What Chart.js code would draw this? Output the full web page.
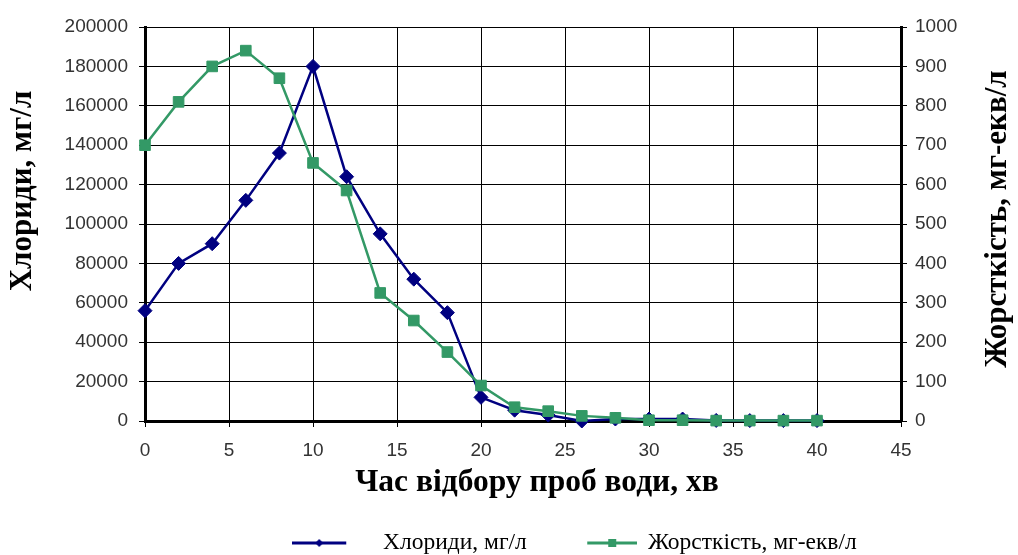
<!DOCTYPE html>
<html>
<head>
<meta charset="utf-8">
<script src="https://cdn.jsdelivr.net/npm/chart.js@4.4.1/dist/chart.umd.min.js"></script>
<style>
  html, body { margin: 0; padding: 0; background: #fff; }
  #wrap { width: 1018px; height: 555px; }
</style>
</head>
<body>
<div id="wrap"><canvas id="c" width="1018" height="555"></canvas></div>
<script>
// Sampling time, minutes
const sampleTime = [0, 2, 4, 6, 8, 10, 12, 14, 16, 18, 20, 22, 24, 26, 28, 30, 32, 34, 36, 38, 40];
// Chloride content, mg/l (left axis)
const chlorides = [56000, 80000, 90000, 112000, 136000, 180000, 124000, 95000, 72000, 55000,
                   12000, 5500, 3000, 0, 1000, 1000, 1000, 300, 200, 200, 200];
// Water hardness, mg-eq/l (right axis)
const hardness = [700, 810, 900, 940, 870, 655, 585, 325, 255, 175,
                  90, 35, 25, 13, 8, 2, 2, 1, 1, 1, 1];

// Axis tick values
const timeTicks = [0, 5, 10, 15, 20, 25, 30, 35, 40, 45];
const chlorideTicks = [0, 20000, 40000, 60000, 80000, 100000, 120000, 140000, 160000, 180000, 200000];
const hardnessTicks = [0, 100, 200, 300, 400, 500, 600, 700, 800, 900, 1000];

// Texts
const chlorideLabel = 'Хлориди, мг/л';
const hardnessLabel = 'Жорсткість, мг-екв/л';
const timeTitle = 'Час відбору проб води, хв';
const chlorideTitle = 'Хлориди, мг/л';
const hardnessTitle = 'Жорсткість, мг-екв/л';

const NAVY = '#000080';
const SEA = '#339966';

// Plot frame
const PLOT_LEFT = 145, PLOT_RIGHT = 901, PLOT_TOP = 27, PLOT_BOTTOM = 421;

const tickFont = { family: '"Liberation Sans", Arial, sans-serif', size: 19 };
const tickColor = '#333333';
const xTitleFont = 'bold 31.5px "Liberation Serif", "Times New Roman", serif';
const yTitleFont = 'bold 31px "Liberation Serif", "Times New Roman", serif';

// Legend geometry
const LEGEND_FONT = 23.5;
const LEGEND_BOX = 60;
const LEGEND_FIRST_TEXT_X = 383;
const LEGEND_SECOND_TEXT_X = 648;
const LEGEND_TEXT_Y = 543;

const measureCtx = document.createElement('canvas').getContext('2d');
measureCtx.font = LEGEND_FONT + 'px "Liberation Serif"';
const firstLabelWidth = measureCtx.measureText(chlorideLabel).width;
const legendPad = (LEGEND_SECOND_TEXT_X - LEGEND_FIRST_TEXT_X) - LEGEND_BOX - LEGEND_FONT / 2 - firstLabelWidth;

// Legend keys: a short line with the series marker on it
function legendKey(color, w, lineFrom, lineTo, markX, shape) {
  const cv = document.createElement('canvas');
  cv.width = w; cv.height = 12;
  const g = cv.getContext('2d');
  g.strokeStyle = color; g.fillStyle = color; g.lineWidth = 3;
  g.beginPath(); g.moveTo(lineFrom, 6); g.lineTo(lineTo, 6); g.stroke();
  g.beginPath();
  if (shape === 'diamond') {
    g.moveTo(markX, 2); g.lineTo(markX + 4, 6); g.lineTo(markX, 10); g.lineTo(markX - 4, 6); g.closePath();
  } else {
    g.rect(markX - 4, 2, 8, 8);
  }
  g.fill();
  return cv;
}
const legendKeys = [
  legendKey(NAVY, 98, 0, 54, 27, 'diamond'),
  legendKey(SEA, 62, 12, 62, 37, 'square')
];

function fixedTicks(values) {
  return function (scale) { scale.ticks = values.map(v => ({ value: v })); };
}

const frameTitles = {
  id: 'frameTitles',
  afterDraw(chart) {
    const ctx = chart.ctx;
    ctx.save();
    ctx.fillStyle = '#000';
    ctx.textAlign = 'center';
    ctx.textBaseline = 'middle';
    ctx.font = xTitleFont;
    ctx.fillText(timeTitle, 537, 483);
    ctx.font = yTitleFont;
    ctx.translate(23, 191);
    ctx.rotate(-Math.PI / 2);
    ctx.fillText(chlorideTitle, 0, 0);
    ctx.restore();
    ctx.save();
    ctx.fillStyle = '#000';
    ctx.font = yTitleFont;
    ctx.textAlign = 'center';
    ctx.textBaseline = 'middle';
    ctx.translate(998, 219);
    ctx.rotate(-Math.PI / 2);
    ctx.fillText(hardnessTitle, 0, 0);
    ctx.restore();
  }
};

// Places the legend row below the x-axis title
const legendPlacement = {
  id: 'legendPlacement',
  afterLayout(chart) {
    const lg = chart.legend;
    if (!lg || !lg.lineWidths) return;
    const natural = (lg.left + legendPad + lg.right - lg.lineWidths[0]) / 2;
    const dx = (LEGEND_FIRST_TEXT_X - LEGEND_BOX - LEGEND_FONT / 2) - natural;
    lg.left += dx; lg.right += dx;
    const dy = (LEGEND_TEXT_Y - LEGEND_FONT / 2 - legendPad) - lg.top;
    lg.top += dy; lg.bottom += dy;
  }
};

const points = arr => arr.map((v, i) => ({ x: sampleTime[i], y: v }));

new Chart(document.getElementById('c'), {
  type: 'line',
  data: {
    datasets: [
      {
        label: chlorideLabel,
        data: points(chlorides),
        yAxisID: 'yCl',
        borderColor: NAVY,
        backgroundColor: NAVY,
        borderWidth: 2.5,
        pointStyle: 'rectRot',
        pointRadius: 7,
        pointBorderWidth: 1,
        order: 2,
        clip: false
      },
      {
        label: hardnessLabel,
        data: points(hardness),
        yAxisID: 'yHard',
        borderColor: SEA,
        backgroundColor: SEA,
        borderWidth: 2.5,
        pointStyle: 'rect',
        pointRadius: 7.5,
        pointBorderWidth: 1,
        order: 1,
        clip: false
      }
    ]
  },
  options: {
    responsive: false,
    animation: false,
    devicePixelRatio: 1,
    events: [],
    layout: { padding: { left: 0, right: 0, top: PLOT_TOP, bottom: 0 } },
    elements: { line: { tension: 0 } },
    scales: {
      x: {
        type: 'linear',
        position: 'bottom',
        min: 0, max: 45,
        afterBuildTicks: fixedTicks(timeTicks),
        afterFit(s) {
          const lgH = s.chart.legend ? s.chart.legend.height : 0;
          s.height = s.chart.height - PLOT_BOTTOM - lgH;
        },
        grid: { color: '#000', lineWidth: 1, tickLength: 6 },
        border: { color: '#000', width: 3 },
        ticks: { font: tickFont, color: tickColor, padding: 12, maxRotation: 0, callback: v => String(v) }
      },
      yCl: {
        type: 'linear',
        position: 'left',
        min: 0, max: 200000,
        afterBuildTicks: fixedTicks(chlorideTicks),
        afterFit(s) { s.width = PLOT_LEFT; },
        grid: { color: '#000', lineWidth: 1, tickLength: 6 },
        border: { color: '#000', width: 3 },
        ticks: { font: tickFont, color: tickColor, padding: 11, callback: v => String(v) }
      },
      yHard: {
        type: 'linear',
        position: 'right',
        min: 0, max: 1000,
        afterBuildTicks: fixedTicks(hardnessTicks),
        afterFit(s) { s.width = s.chart.width - PLOT_RIGHT; },
        grid: { drawOnChartArea: false, color: '#000', lineWidth: 1, tickLength: 6 },
        border: { color: '#000', width: 3 },
        ticks: { font: tickFont, color: tickColor, padding: 8, callback: v => String(v) }
      }
    },
    plugins: {
      tooltip: { enabled: false },
      legend: {
        position: 'bottom',
        align: 'center',
        labels: {
          usePointStyle: true,
          pointStyleWidth: LEGEND_BOX,
          padding: legendPad,
          color: '#000',
          font: { family: '"Liberation Serif", "Times New Roman", serif', size: LEGEND_FONT },
          generateLabels(chart) {
            return chart.data.datasets.map((ds, i) => ({
              text: ds.label,
              pointStyle: legendKeys[i],
              fillStyle: ds.borderColor,
              strokeStyle: ds.borderColor,
              fontColor: '#000',
              lineWidth: 0,
              hidden: false,
              datasetIndex: i
            }));
          }
        }
      }
    }
  },
  plugins: [frameTitles, legendPlacement]
});
</script>
</body>
</html>
